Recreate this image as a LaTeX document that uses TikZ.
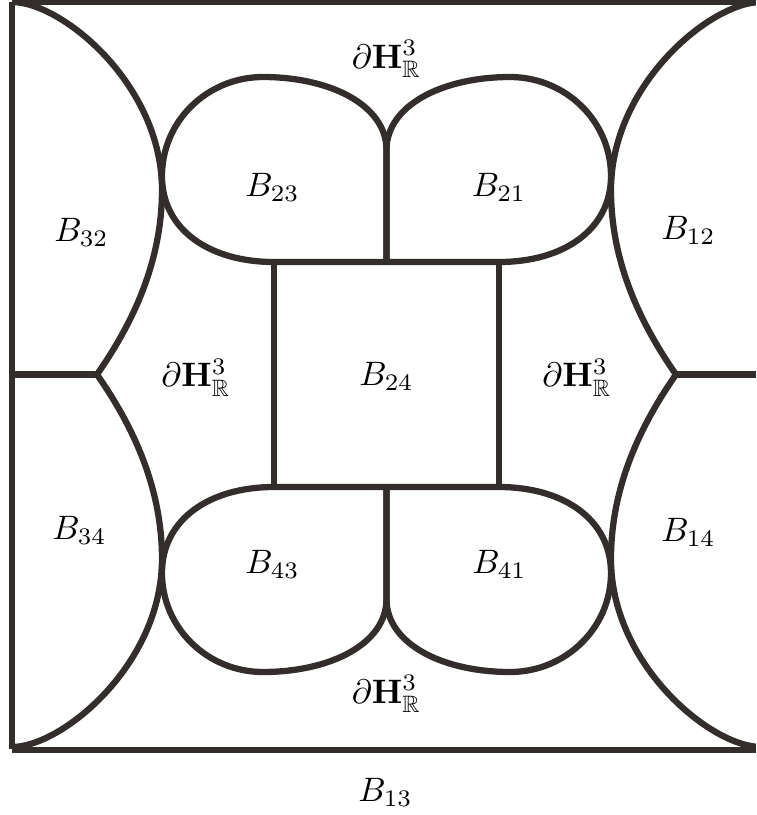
\documentclass[tikz,border=0pt]{standalone}
\usepackage{amsmath,amssymb}
\usepackage{tikz}
\definecolor{inkbrown}{RGB}{51,45,43}

\begin{document}
\begin{tikzpicture}[
  x=0.295pt, y=0.295pt,
  wall/.style={draw=inkbrown, line width=1.85pt, line join=round},
  lbl/.style={inner sep=0pt}
]
  \useasboundingbox (-386.5,-440.5) rectangle (369.5,374.5);
  \clip (-386.5,-440.5) rectangle (369.5,374.5);

  % outer frame
  \draw[wall] (-374.5,373) -- (374.5,373);
  \draw[wall] (-374.5,373) -- (-374.5,-374);
  \draw[wall] (-374.5,-375.5) -- (374.5,-375.5);
  \draw[wall] (374.5,373) -- (374.5,-375.5);

  % side arcs and lobes, one quarter mirrored four times
  \foreach \sx/\sy in {1/1,-1/1,1/-1,-1/-1}{
    \begin{scope}[xscale=\sx, yscale=\sy]
      \draw[wall] (-374.5,372.5)
        .. controls (-324.5,372.5) and (-224.5,290) .. (-224.5,184.5)
        .. controls (-224.5,110) and (-256,48) .. (-289.5,0);
      \draw[wall] (0,112.5) -- (-112.5,112.5)
        .. controls (-176.5,112.5) and (-224.5,144.5) .. (-224.5,198.5)
        .. controls (-224.5,253.5) and (-179,297.5) .. (-123.5,297.5)
        .. controls (-56.5,297.5) and (0,269.5) .. (0,224.5) -- cycle;
    \end{scope}
  }
  \draw[wall] (-374.5,0) -- (-289.5,0);
  \draw[wall] (289.5,0) -- (374.5,0);

  % centre square
  \draw[wall] (-112.5,-112.5) rectangle (112.5,112.5);

  % labels
  \node[lbl] (htop)   at (0,315.5)      {$\partial\mathbf{H}^3_{\mathbb{R}}$};
  \node[lbl] (hbot)   at (0,-319.5)     {$\partial\mathbf{H}^3_{\mathbb{R}}$};
  \node[lbl] (hleft)  at (-190.5,-3)    {$\partial\mathbf{H}^3_{\mathbb{R}}$};
  \node[lbl] (hright) at (190.5,-3)     {$\partial\mathbf{H}^3_{\mathbb{R}}$};
  \node[lbl] (b24) at (0,-1.5)          {$B_{24}$};
  \node[lbl] (b23) at (-114,187)        {$B_{23}$};
  \node[lbl] (b21) at (112.5,187.5)     {$B_{21}$};
  \node[lbl] (b43) at (-114,-190)       {$B_{43}$};
  \node[lbl] (b41) at (113,-190)        {$B_{41}$};
  \node[lbl] (b32) at (-305,142)        {$B_{32}$};
  \node[lbl] (b12) at (302,144)         {$B_{12}$};
  \node[lbl] (b34) at (-307,-155.5)     {$B_{34}$};
  \node[lbl] (b14) at (302,-157.5)      {$B_{14}$};
  \node[lbl] (b13) at (-1,-417.5)       {$B_{13}$};
\end{tikzpicture}
\end{document}
